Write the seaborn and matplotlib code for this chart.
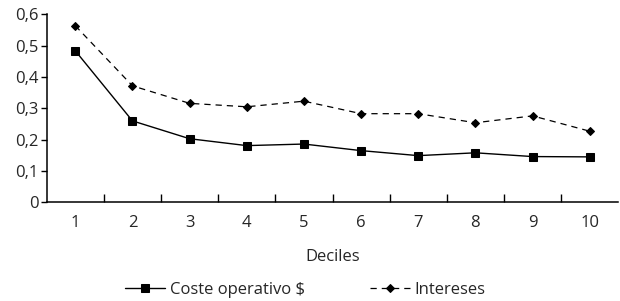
import matplotlib
matplotlib.use("Agg")
import matplotlib.pyplot as plt
import seaborn as sns
import pandas as pd
import numpy as np

deciles = ["1", "2", "3", "4", "5", "6", "7", "8", "9", "10"]
coste = [0.484, 0.260, 0.203, 0.181, 0.186, 0.165, 0.149, 0.158, 0.146, 0.145]
intereses = [0.564, 0.372, 0.316, 0.305, 0.323, 0.283, 0.283, 0.254, 0.276, 0.227]
yticks = [0, 0.1, 0.2, 0.3, 0.4, 0.5, 0.6]
ytick_labels = ["0", "0,1", "0,2", "0,3", "0,4", "0,5", "0,6"]

sns.set_style("ticks")
plt.rcParams["font.family"] = ["Open Sans", "DejaVu Sans"]

pos = np.arange(len(deciles))
df1 = pd.DataFrame({"x": pos, "y": coste})
df2 = pd.DataFrame({"x": pos, "y": intereses})

fs = 12
fig = plt.figure(figsize=(6.2, 3.01), dpi=100)
ax = fig.add_axes([0.0753, 0.328, 0.922, 0.624])

sns.lineplot(data=df1, x="x", y="y", ax=ax, color="black", linewidth=1.0,
             marker="s", markersize=6, markeredgecolor="black",
             label="Coste operativo $")
sns.lineplot(data=df2, x="x", y="y", ax=ax, color="black", linewidth=0.9,
             linestyle=(0, (5, 4)), marker="D", markersize=4,
             markeredgecolor="black", label="Intereses")

ax.set_xlim(-0.5, 9.5)
ax.set_ylim(0, 0.6)
ax.set_yticks(yticks)
ax.set_yticklabels(ytick_labels, fontsize=fs)
ax.set_xticks(pos)
ax.set_xticklabels(deciles, fontsize=fs)
ax.set_xticks(pos[:-1] + 0.5, minor=True)
ax.tick_params(axis="x", which="major", length=0, pad=9)
ax.tick_params(axis="x", which="minor", direction="in", length=6, width=1, color="black")
ax.tick_params(axis="y", direction="out", length=4, width=1, color="black", pad=2)
ax.set_xlabel("Deciles", fontsize=fs, labelpad=13)
ax.set_ylabel("")
for s in ["top", "right"]:
    ax.spines[s].set_visible(False)
for s in ["left", "bottom"]:
    ax.spines[s].set_linewidth(1.1)
    ax.spines[s].set_color("black")

h, l = ax.get_legend_handles_labels()
ax.get_legend().remove()
fig.legend(h, l, loc="center", bbox_to_anchor=(0.492, 0.037), ncol=2,
           frameon=False, fontsize=fs, handlelength=2.4, columnspacing=3.9,
           handletextpad=0.3)

fig.savefig("out.png", dpi=100)
